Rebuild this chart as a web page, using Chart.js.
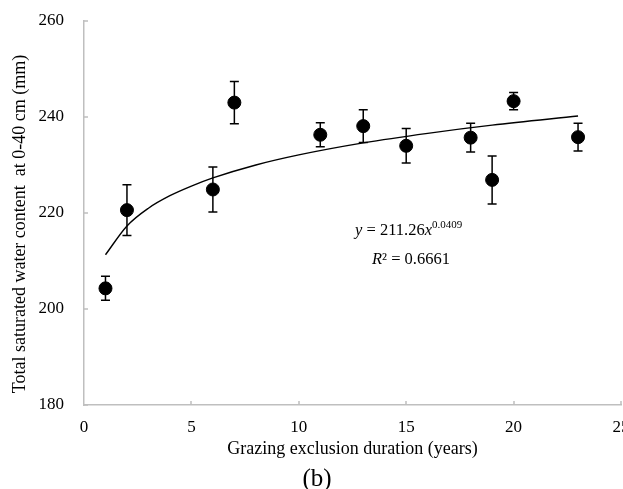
<!DOCTYPE html>
<html>
<head>
<meta charset="utf-8">
<script src="https://cdn.jsdelivr.net/npm/chart.js@4"></script>
<style>
  html, body { margin: 0; padding: 0; background: #fff; overflow: hidden; }
  #wrap { width: 623px; height: 489px; overflow: hidden; }
</style>
</head>
<body>
<div id="wrap"><canvas id="chart" width="633" height="489"></canvas></div>
<script>
// measured points (years of exclusion, water content mm, error bar half-length)
const years = [1, 2, 6, 7, 11, 13, 15, 18, 19, 20, 23];
const water = [204.3, 220.6, 224.9, 243.0, 236.3, 238.1, 234.0, 235.7, 226.9, 243.3, 235.8];
const errors = [2.5, 5.3, 4.7, 4.4, 2.5, 3.4, 3.6, 3.0, 5.0, 1.8, 2.9];

// power trendline, values
const trendX = [1, 2, 3, 4, 5, 6, 8, 10, 13, 16, 19, 23];
const trendY = [211.3, 217.3, 221.0, 223.6, 225.6, 227.3, 230.0, 232.1, 234.6, 236.6, 238.3, 240.2];

const xTicks = [0, 5, 10, 15, 20, 25];
const yTicks = [180, 200, 220, 240, 260];

const serif = '"Liberation Serif", "DejaVu Serif", serif';
const axisGrey = '#bfbfbf';

document.addEventListener('DOMContentLoaded', () => {
    const ctx = document.getElementById('chart').getContext('2d');

    const extras = {
        id: 'extras',
        beforeDatasetsDraw(chart) {
            const c = chart.ctx;
            const xs = chart.scales.x, ys = chart.scales.y;
            c.save();
            c.strokeStyle = '#000';
            c.lineWidth = 1.5;
            years.forEach((yr, i) => {
                const px = xs.getPixelForValue(yr);
                const top = ys.getPixelForValue(water[i] + errors[i]);
                const bot = ys.getPixelForValue(water[i] - errors[i]);
                c.beginPath();
                c.moveTo(px, top); c.lineTo(px, bot);
                c.moveTo(px - 4.5, top); c.lineTo(px + 4.5, top);
                c.moveTo(px - 4.5, bot); c.lineTo(px + 4.5, bot);
                c.stroke();
            });
            c.restore();
        },
        afterDraw(chart) {
            const c = chart.ctx;
            const xs = chart.scales.x, ys = chart.scales.y;
            const area = chart.chartArea;
            c.save();
            // inward tick marks
            c.strokeStyle = axisGrey;
            c.lineWidth = 1.5;
            c.beginPath();
            xTicks.slice(1).forEach(v => {
                const px = Math.round(xs.getPixelForValue(v));
                c.moveTo(px, area.bottom); c.lineTo(px, area.bottom - 4);
            });
            yTicks.forEach(v => {
                const py = Math.round(ys.getPixelForValue(v));
                c.moveTo(area.left, py); c.lineTo(area.left + 4, py);
            });
            c.stroke();

            c.fillStyle = '#000';
            c.textBaseline = 'alphabetic';

            // y axis title
            c.save();
            c.translate(25, 224);
            c.rotate(-Math.PI / 2);
            c.textAlign = 'center';
            c.font = '18px ' + serif;
            c.fillText('Total saturated water content  at 0-40 cm (mm)', 0, 0);
            c.restore();

            // equation
            c.textAlign = 'left';
            let x = 355;
            const base = 235;
            const parts = [
                ['italic 16.5px ', 'y', 0],
                ['16.5px ', ' = 211.26', 0],
                ['italic 16.5px ', 'x', 0],
                ['11px ', '0.0409', -7]
            ];
            parts.forEach(([f, t, dy]) => {
                c.font = f + serif;
                c.fillText(t, x, base + dy);
                x += c.measureText(t).width;
            });

            x = 372;
            const base2 = 264;
            const parts2 = [
                ['italic 16.5px ', 'R', 0],
                ['16.5px ', '\u00b2 = 0.6661', 0]
            ];
            parts2.forEach(([f, t, dy]) => {
                c.font = f + serif;
                c.fillText(t, x, base2 + dy);
                x += c.measureText(t).width;
            });

            // panel label
            c.textAlign = 'center';
            c.font = '25px ' + serif;
            c.fillText('(b)', 317, 486);
            c.restore();
        }
    };

    new Chart(ctx, {
        type: 'scatter',
        data: {
            datasets: [{
                label: 'Water content',
                data: years.map((yr, i) => ({ x: yr, y: water[i] })),
                backgroundColor: '#000',
                borderColor: '#000',
                pointRadius: 6.5,
                pointHoverRadius: 6.5,
                order: 1
            }, {
                label: 'Power trend',
                type: 'line',
                data: trendX.map((v, i) => ({ x: v, y: trendY[i] })),
                borderColor: '#000',
                borderWidth: 1.4,
                pointRadius: 0,
                fill: false,
                cubicInterpolationMode: 'monotone',
                order: 2
            }]
        },
        options: {
            responsive: false,
            animation: false,
            events: [],
            layout: { padding: { top: 21, right: 12, left: 0, bottom: 0 } },
            plugins: {
                legend: { display: false },
                tooltip: { enabled: false }
            },
            scales: {
                x: {
                    type: 'linear',
                    min: 0,
                    max: 25,
                    afterBuildTicks: s => { s.ticks = xTicks.map(v => ({ value: v })); },
                    afterFit: s => { s.height = 84; s.paddingLeft = 0; s.paddingRight = 0; },
                    grid: { display: false, drawTicks: false },
                    border: { display: true, color: axisGrey, width: 1.5 },
                    ticks: {
                        color: '#000',
                        padding: 12,
                        maxRotation: 0,
                        font: { family: serif, size: 17 }
                    },
                    title: {
                        display: true,
                        text: 'Grazing exclusion duration (years)',
                        color: '#000',
                        font: { family: serif, size: 18 },
                        padding: { top: 0, bottom: 29 }
                    }
                },
                y: {
                    min: 180,
                    max: 260,
                    afterBuildTicks: s => { s.ticks = yTicks.map(v => ({ value: v })); },
                    afterFit: s => { s.width = 84; s.paddingTop = 0; s.paddingBottom = 0; },
                    grid: { display: false, drawTicks: false },
                    border: { display: true, color: axisGrey, width: 1.5 },
                    ticks: {
                        color: '#000',
                        padding: 20,
                        font: { family: serif, size: 17 }
                    }
                }
            }
        },
        plugins: [extras]
    });
});
</script>
</body>
</html>
